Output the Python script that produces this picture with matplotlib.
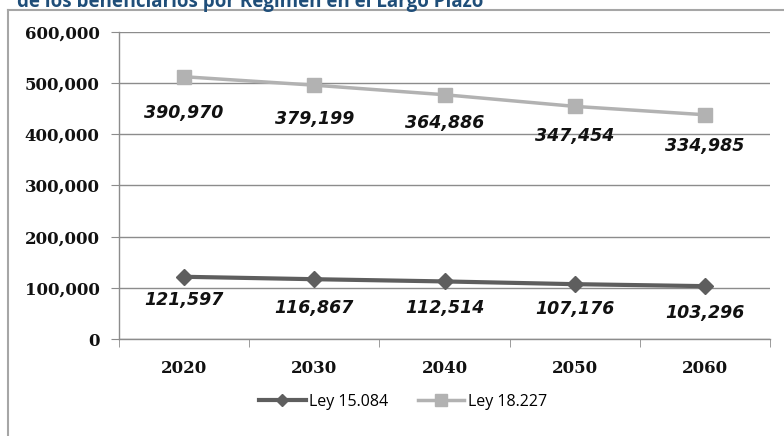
import matplotlib.pyplot as plt
from matplotlib.lines import Line2D
from matplotlib.ticker import FuncFormatter, MultipleLocator, FixedLocator

# Datos
years = ["2020", "2030", "2040", "2050", "2060"]
ley_15084 = [121597, 116867, 112514, 107176, 103296]
ley_18227 = [390970, 379199, 364886, 347454, 334985]
series_names = ["Ley 15.084", "Ley 18.227"]
title = "de los beneficiarios por Régimen en el Largo Plazo"

# label offsets below each point (pixels), purely cosmetic
off_15084 = [23, 29, 27, 25, 27]
off_18227 = [36, 34, 28, 30, 31]

fig = plt.figure(figsize=(7.84, 4.36), dpi=100)
ax = fig.add_axes([119 / 784, 1 - 339 / 436, 651 / 784, 307 / 436])

x = list(range(len(years)))
stacked = [a + b for a, b in zip(ley_15084, ley_18227)]

dark = "#5e5e5e"
light = "#b2b2b2"
ax.plot(x, ley_15084, color=dark, lw=3, marker="D", ms=8, zorder=4)
ax.plot(x, stacked, color=light, lw=2.5, marker="s", ms=10, zorder=3)

lab_font = dict(family="DejaVu Sans", weight="bold", style="italic", size=12.5, color="#111111")
for xi, v, o in zip(x, ley_15084, off_15084):
    ax.annotate(f"{v:,}", (xi, v), xytext=(0, -o * 0.72), textcoords="offset points",
                ha="center", va="center", zorder=5, **lab_font)
for xi, v, s, o in zip(x, ley_18227, stacked, off_18227):
    ax.annotate(f"{v:,}", (xi, s), xytext=(0, -o * 0.72), textcoords="offset points",
                ha="center", va="center", zorder=5, **lab_font)

ax.set_xlim(-0.5, len(years) - 0.5)
ax.set_ylim(0, 600000)
ax.yaxis.set_major_locator(MultipleLocator(100000))
ax.yaxis.set_major_formatter(FuncFormatter(lambda v, p: f"{int(v):,}"))
ax.set_xticks(x)
ax.set_xticklabels(years)
ax.xaxis.set_minor_locator(FixedLocator([i - 0.5 for i in range(len(years) + 1)]))

ax.grid(axis="y", color="#8c8c8c", lw=1)
ax.set_axisbelow(True)
for s in ["top", "right"]:
    ax.spines[s].set_visible(False)
for s in ["left", "bottom"]:
    ax.spines[s].set_color("#8c8c8c")
    ax.spines[s].set_linewidth(1)

for lbl in ax.get_yticklabels() + ax.get_xticklabels():
    lbl.set_fontfamily("DejaVu Serif")
    lbl.set_fontweight("bold")
    lbl.set_fontsize(12)
    lbl.set_color("#111111")
ax.tick_params(axis="y", length=6, color="#8c8c8c", pad=8)
ax.tick_params(axis="x", which="major", length=0, pad=15)
ax.tick_params(axis="x", which="minor", length=6, color="#8c8c8c")

handles = [Line2D([], [], color=dark, lw=3, marker="D", ms=6),
           Line2D([], [], color=light, lw=2.5, marker="s", ms=8)]
fig.legend(handles, series_names, loc="center", bbox_to_anchor=(403 / 784, 1 - 402 / 436),
           ncol=2, frameon=False, handlelength=2.9, handletextpad=0.2, columnspacing=1.9,
           prop=dict(family="Open Sans", size=11.5))

# outer chart frame (left and top edges visible)
fig.add_artist(Line2D([8 / 784, 8 / 784], [0, 1 - 10 / 436], transform=fig.transFigure,
                      color="#a6a6a6", lw=1.5))
fig.add_artist(Line2D([8 / 784, 1], [1 - 10 / 436, 1 - 10 / 436], transform=fig.transFigure,
                      color="#a6a6a6", lw=1.5))

fig.text(483 / 784, 1 - 7 / 436, title, ha="right", va="baseline", color="#1f4e79",
         fontsize=13.5, fontweight="bold", family="Open Sans")

fig.savefig("out.png", dpi=100)
